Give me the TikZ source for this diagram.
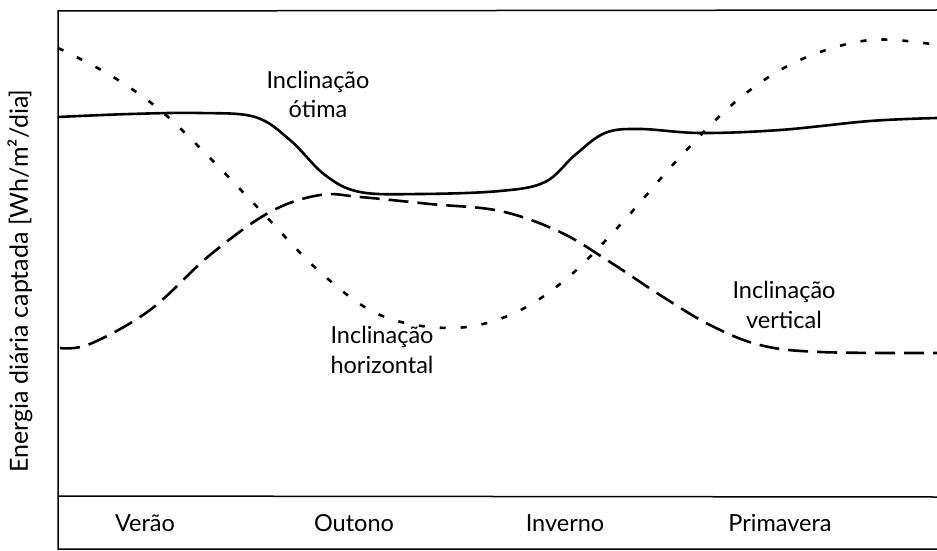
\documentclass[tikz,border=0pt]{standalone}
\usepackage{fontspec}
\setmainfont{Lato}
\usepackage{tikz}

\begin{document}
\begin{tikzpicture}[x=1pt,y=-1pt,font=\fontsize{23.5}{27}\selectfont]
    \useasboundingbox (0,0) rectangle (937,551);
    % frame
    \draw[line width=1.5pt](937,10)--(58,11)--(58,549)--(937,549);
    \draw[line width=1.5pt](58,496)--(937,497);

    % curves
    \draw[line width=2.6pt]plot[smooth, tension=0.6] coordinates {(58,117) (130,114) (200,113) (255,117) (290,140) (325,175) (360,192) (420,194) (500,191) (545,182) (575,155) (605,133) (640,129) (700,133) (780,130) (870,121) (937,118)};
    \draw[line width=2.6pt, dash pattern=on 20pt off 9pt]plot[smooth, tension=0.6] coordinates {(60,348) (90,344) (150,310) (210,255) (270,212) (320,195) (360,197) (430,204) (500,211) (560,232) (610,262) (660,295) (710,325) (760,345) (820,352) (937,353)};
    \draw[line width=2.6pt, dash pattern=on 6pt off 15pt]plot[smooth, tension=0.6] coordinates {(58,48) (110,75) (160,110) (210,158) (260,210) (320,272) (380,315) (450,328) (510,315) (565,280) (620,225) (680,157) (740,98) (800,60) (870,40) (937,45)};

    % labels
    \node (otima1) at (318,82){Inclinação};
    \node (otima2) at (318,109){ótima};
    \node (horiz1) at (382,337){Inclinação};
    \node (horiz2) at (382,365){horizontal};
    \node (vert1) at (784,292){Inclinação};
    \node (vert2) at (784,320){vertical};

    \node (verao) at (145,523){Verão};
    \node (outono) at (354,523){Outono};
    \node (inverno) at (565,523){Inverno};
    \node (primavera) at (780,523){Primavera};

    \node[rotate=90,font=\fontsize{25}{28}\selectfont] (eixo) at (20,281){Energia diária captada [Wh/m²/dia]};
\end{tikzpicture}
\end{document}
